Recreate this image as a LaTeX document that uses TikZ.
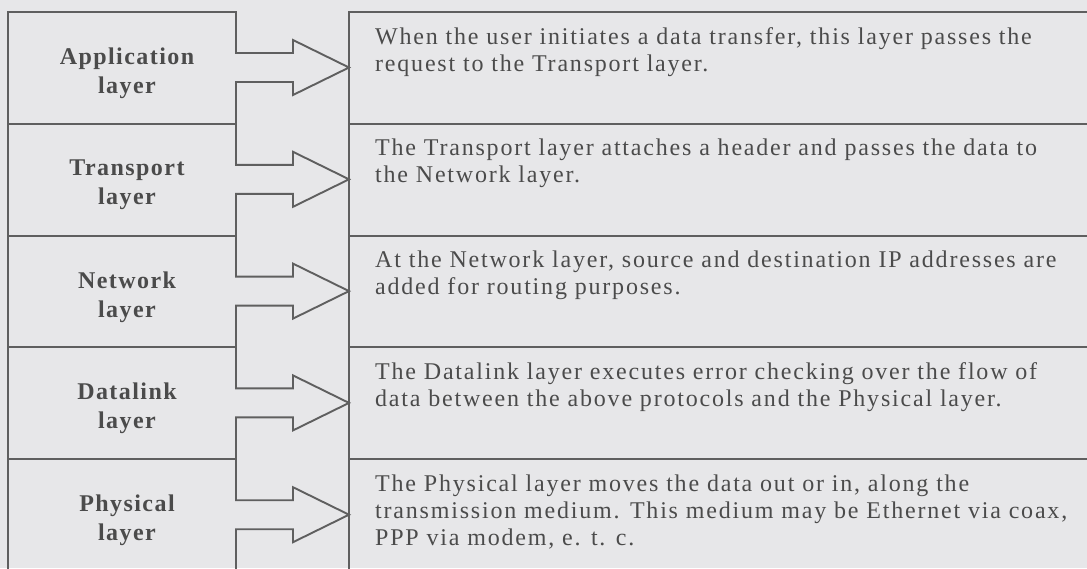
\documentclass[tikz,border=0pt]{standalone}
\usepackage{fontspec}
\setmainfont{Liberation Serif}
\newfontfamily\lblfont[LetterSpace=6]{Liberation Serif}
\newfontfamily\txtfont[LetterSpace=7.5]{Liberation Serif}
\definecolor{bg}{RGB}{231,231,233}
\definecolor{ink}{RGB}{95,95,95}
\definecolor{txt}{RGB}{75,75,75}
\begin{document}
\begin{tikzpicture}[x=1pt,y=-1pt,
  frame/.style={draw=ink, line width=1.9pt, line join=miter},
  lbl/.style={font=\lblfont\bfseries\fontsize{24}{29}\selectfont, text=txt, align=center, inner sep=0pt},
  desc/.style={font=\txtfont\fontsize{24}{27}\selectfont, text=txt, align=left, anchor=north west, inner sep=0pt}]
\fill[bg] (0,0) rectangle (1087,568);
\useasboundingbox (0,0) rectangle (1087,568);
% arrow tips on the right boxes' left edge
\foreach \i/\c in {1/67.5,2/179.3,3/291.1,4/402.9,5/514.7}
  \coordinate (tip\i) at (349,\c);
% left column outline and arrows
\draw[frame] (8,571) -- (8,12) -- (236,12)
  foreach \c in {67.5,179.3,291.1,402.9,514.7} {
    -- (236,\c-14.5) -- (293,\c-14.5) -- (293,\c-27.5) -- (349,\c)
    -- (293,\c+27.5) -- (293,\c+14.5) -- (236,\c+14.5) }
  -- (236,571);
\foreach \t in {123.8,235.6,347.4,459.2}
  \draw[frame] (8,\t) -- (236,\t);
% right column
\draw[frame] (349,571) -- (349,12) -- (1092,12);
\foreach \t in {123.8,235.6,347.4,459.2}
  \draw[frame] (349,\t) -- (1092,\t);
% labels
\node[lbl] (L1) at (127,73) {Application\\layer};
\node[lbl] (L2) at (127,185) {Transport\\layer};
\node[lbl] (L3) at (127,297) {Network\\layer};
\node[lbl] (L4) at (127,408) {Datalink\\layer};
\node[lbl] (L5) at (127,520) {Physical\\layer};
% descriptions
\node[desc] (R1) at (375,27) {When the user initiates a data transfer, this layer passes the\\request to the Transport layer.};
\node[desc] (R2) at (375,138.8) {The Transport layer attaches a header and passes the data to\\the Network layer.};
\node[desc] (R3) at (375,250.6) {At the Network layer, source and destination IP addresses are\\added for routing purposes.};
\node[desc] (R4) at (375,362.4) {The Datalink layer executes error checking over the flow of\\data between the above protocols and the Physical layer.};
\node[desc] (R5) at (375,474.2) {The Physical layer moves the data out or in, along the\\transmission medium. This medium may be Ethernet via coax,\\PPP via modem, e. t. c.};
\end{tikzpicture}
\end{document}
